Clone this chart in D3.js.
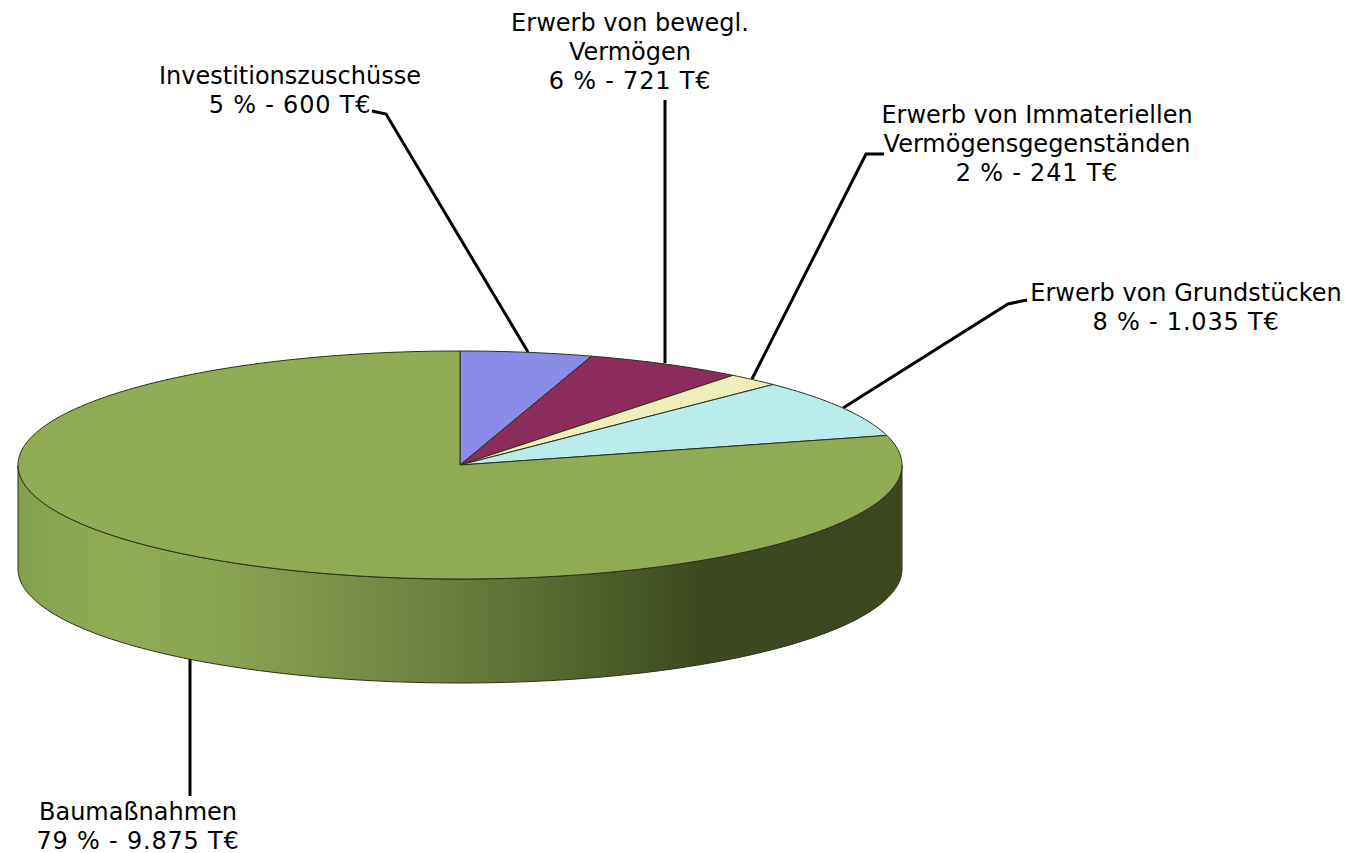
<!DOCTYPE html>
<html><head><meta charset="utf-8">
<script src="https://cdn.jsdelivr.net/npm/d3@7/dist/d3.min.js"></script>
<style>html,body{margin:0;padding:0;background:#fff}svg{display:block}</style></head>
<body><svg id="c" width="1360" height="853"></svg>
<script>
const categories=["Investitionszuschüsse","Erwerb von bewegl. Vermögen","Erwerb von Immateriellen Vermögensgegenständen","Erwerb von Grundstücken","Baumaßnahmen"];
const values=[600,721,241,1035,9875];
const colors=["#8b8bea","#8b2c5c","#eeeebb","#bbecec","#8fab54"];
const labelLines=[["Investitionszuschüsse","5 % - 600 T€"],["Erwerb von bewegl.","Vermögen","6 % - 721 T€"],["Erwerb von Immateriellen","Vermögensgegenständen","2 % - 241 T€"],["Erwerb von Grundstücken","8 % - 1.035 T€"],["Baumaßnahmen","79 % - 9.875 T€"]];
const labelCx=[290,630,1037,1186,138];
const labelTop=[84,31,123,301,820];
const leaders=[[[372,111],[386,114],[528,352]],[[665,100],[665,363]],[[884,154],[866,154],[752,379]],[[1027,300],[1008,304],[843,408]],[[190,796],[190,658]]];
const cx=460,cy=465,rx=442,ry=114,depth=104;
const svg=d3.select("#c");
const defs=svg.append("defs");
const grad=defs.append("linearGradient").attr("id","side").attr("x1",0).attr("x2",1).attr("y1",0).attr("y2",0);
[[0,"#83a04d"],[0.1,"#8fab54"],[0.2,"#8ba752"],[0.35,"#7c934a"],[0.48,"#6d8040"],[0.6,"#566a30"],[0.77,"#3d4a20"],[1,"#3c4720"]].forEach(s=>grad.append("stop").attr("offset",s[0]).attr("stop-color",s[1]));
const pie=d3.pie().sort(null).value(d=>d);
const arcs=pie(values);
const sx=d3.scaleLinear().domain([-1,1]).range([cx-rx,cx+rx]);
const sy=d3.scaleLinear().domain([-1,1]).range([cy+ry,cy-ry]);
function pt(a,dy=0){return [sx(Math.sin(a)),sy(Math.cos(a))+dy];}
function slicePath(a0,a1){const p=d3.path();p.moveTo(cx,cy);const n=Math.max(2,Math.ceil((a1-a0)*60));for(let i=0;i<=n;i++){const q=pt(a0+(a1-a0)*i/n);p.lineTo(q[0],q[1]);}p.closePath();return p.toString();}
const side=d3.path();const n=200;
for(let i=0;i<=n;i++){const a=Math.PI/2+Math.PI*i/n;const q=pt(a);i?side.lineTo(q[0],q[1]):side.moveTo(q[0],q[1]);}
for(let i=n;i>=0;i--){const a=Math.PI/2+Math.PI*i/n;const q=pt(a,depth);side.lineTo(q[0],q[1]);}
side.closePath();
svg.selectAll("path.leader").data(leaders).join("path").attr("class","leader")
 .attr("d",d3.line()).attr("fill","none").attr("stroke","#000").attr("stroke-width",3);
svg.append("path").attr("d",side.toString()).attr("fill","url(#side)").attr("stroke","#2a3016").attr("stroke-width",1);
svg.selectAll("path.slice").data(arcs).join("path").attr("class","slice")
 .attr("d",d=>slicePath(d.startAngle,d.endAngle)).attr("fill",(d,i)=>colors[i]).attr("stroke","#2a3016").attr("stroke-width",1);
const g=svg.selectAll("text.l").data(labelLines).join("text").attr("class","l")
 .attr("font-family","'DejaVu Sans',Verdana,sans-serif").attr("font-size",24).attr("fill","#000").attr("text-anchor","middle");
g.each(function(lines,i){d3.select(this).selectAll("tspan").data(lines).join("tspan").attr("x",labelCx[i]).attr("y",(l,j)=>labelTop[i]+j*29)
  .attr("letter-spacing",(l,j)=>j===lines.length-1?0.8:0).text(l=>l);});
</script></body></html>
